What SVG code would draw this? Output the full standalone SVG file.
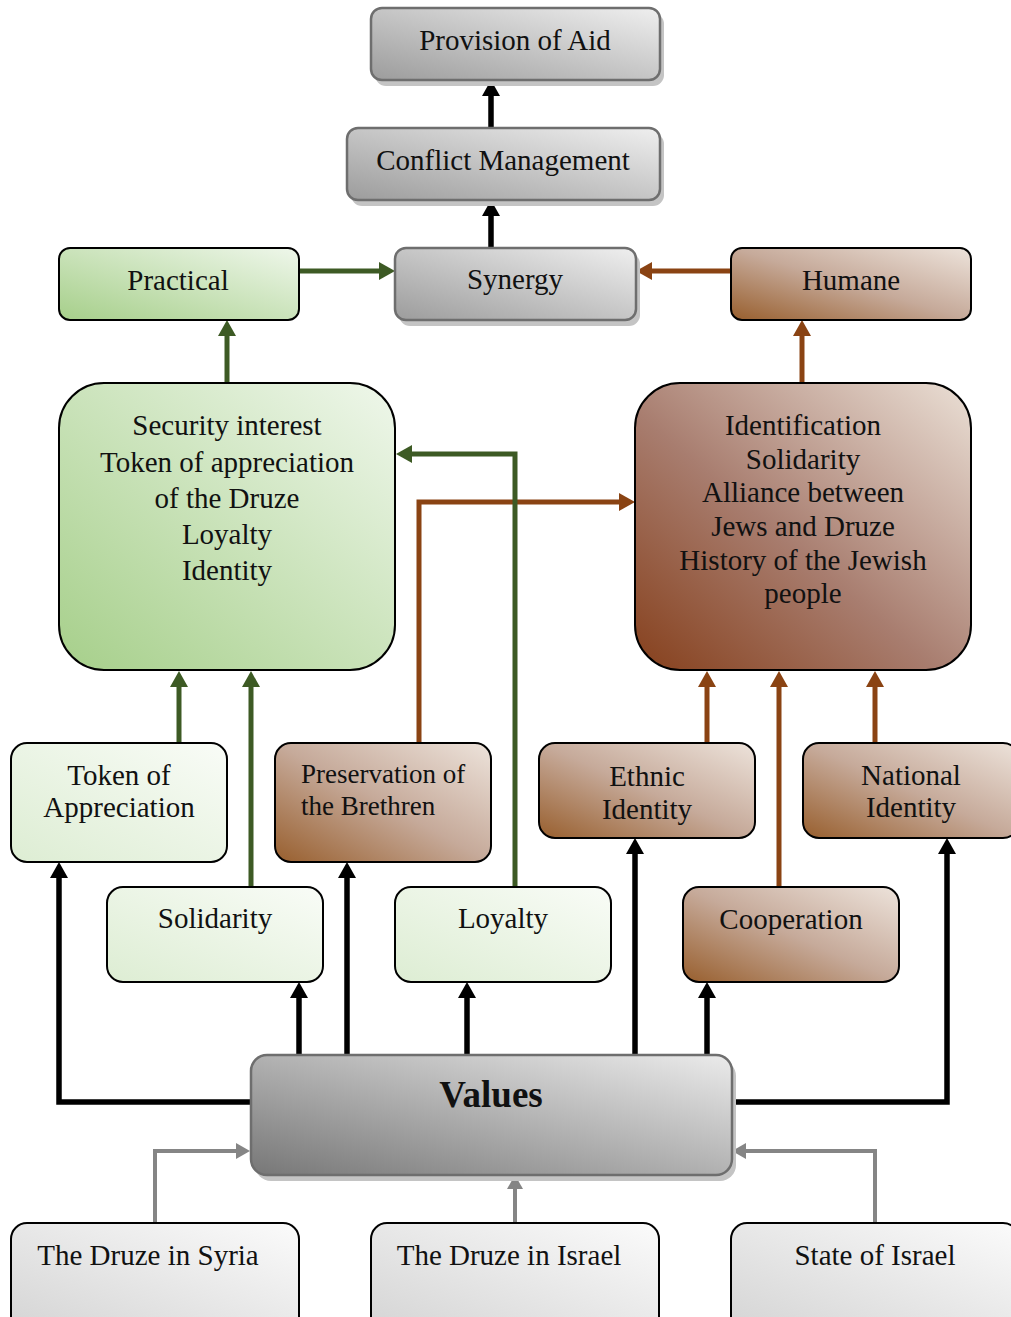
<svg xmlns="http://www.w3.org/2000/svg" width="1011" height="1317" viewBox="0 0 1011 1317">
<style>
text{font-family:"Liberation Serif","Times New Roman",serif;font-size:29px;fill:#111;text-anchor:middle}
.small{font-size:27px;text-anchor:start}
.bold{font-weight:bold;font-size:37px}
.gnode{stroke:#6e6e6e;stroke-width:2.5}
.bnode{stroke:#000;stroke-width:2}
.shadow{fill:#c4c4c4}
.cb{fill:none;stroke:#000;stroke-width:5.5}
.cg{fill:none;stroke:#3d5a24;stroke-width:5}
.cr{fill:none;stroke:#8a4313;stroke-width:5}
.cy{fill:none;stroke:#858585;stroke-width:4}
</style>
<defs>
<linearGradient id="gGray" x1="0" y1="1" x2="1" y2="0"><stop offset="0" stop-color="#9c9c9c"/><stop offset="1" stop-color="#efefef"/></linearGradient>
<linearGradient id="gVal" x1="0" y1="1" x2="1" y2="0"><stop offset="0" stop-color="#777"/><stop offset="1" stop-color="#ebebeb"/></linearGradient>
<linearGradient id="gLGray" x1="0" y1="1" x2="1" y2="0"><stop offset="0" stop-color="#d4d4d4"/><stop offset="1" stop-color="#fbfbfb"/></linearGradient>
<linearGradient id="gGreen" x1="0" y1="1" x2="1" y2="0"><stop offset="0" stop-color="#a6cf8a"/><stop offset="1" stop-color="#eff7eb"/></linearGradient>
<linearGradient id="gLGreen" x1="0" y1="1" x2="1" y2="0"><stop offset="0" stop-color="#ddedd3"/><stop offset="1" stop-color="#f9fcf7"/></linearGradient>
<linearGradient id="gBrown" x1="0" y1="1" x2="1" y2="0"><stop offset="0" stop-color="#985f2e"/><stop offset="0.5" stop-color="#c6aa9a"/><stop offset="1" stop-color="#ede3db"/></linearGradient>
<linearGradient id="gBigBrown" x1="0" y1="1" x2="1" y2="0"><stop offset="0" stop-color="#86401c"/><stop offset="0.45" stop-color="#a87d6f"/><stop offset="1" stop-color="#ebe0d6"/></linearGradient>
<marker id="aB" markerUnits="userSpaceOnUse" markerWidth="16" markerHeight="18" refX="4" refY="9" orient="auto"><path d="M0,0 L16,9 L0,18 z" fill="#000"/></marker>
<marker id="aG" markerUnits="userSpaceOnUse" markerWidth="16" markerHeight="18" refX="4" refY="9" orient="auto"><path d="M0,0 L16,9 L0,18 z" fill="#3d5a24"/></marker>
<marker id="aR" markerUnits="userSpaceOnUse" markerWidth="16" markerHeight="18" refX="4" refY="9" orient="auto"><path d="M0,0 L16,9 L0,18 z" fill="#8a4313"/></marker>
<marker id="aY" markerUnits="userSpaceOnUse" markerWidth="14" markerHeight="16" refX="3" refY="8" orient="auto"><path d="M0,0 L14,8 L0,16 z" fill="#858585"/></marker>
</defs>

<g id="connectors">
<path class="cb" marker-end="url(#aB)" d="M491,128 V92"/>
<path class="cb" marker-end="url(#aB)" d="M491,248 V212"/>
<path class="cb" marker-end="url(#aB)" d="M299,1055 V994"/>
<path class="cb" marker-end="url(#aB)" d="M347,1055 V874"/>
<path class="cb" marker-end="url(#aB)" d="M467,1055 V994"/>
<path class="cb" marker-end="url(#aB)" d="M635,1055 V850"/>
<path class="cb" marker-end="url(#aB)" d="M707,1055 V994"/>
<path class="cb" marker-end="url(#aB)" d="M251,1102 H59 V874"/>
<path class="cb" marker-end="url(#aB)" d="M732,1102 H947 V850"/>
<path class="cr" marker-end="url(#aR)" d="M731,271 H648"/>
<path class="cr" marker-end="url(#aR)" d="M802,383 V332"/>
<path class="cr" marker-end="url(#aR)" d="M419,743 V502 H623"/>
<path class="cr" marker-end="url(#aR)" d="M707,743 V683"/>
<path class="cr" marker-end="url(#aR)" d="M779,887 V683"/>
<path class="cr" marker-end="url(#aR)" d="M875,743 V683"/>
<path class="cg" marker-end="url(#aG)" d="M299,271 H383"/>
<path class="cg" marker-end="url(#aG)" d="M227,383 V332"/>
<path class="cg" marker-end="url(#aG)" d="M179,743 V683"/>
<path class="cg" marker-end="url(#aG)" d="M251,887 V683"/>
<path class="cg" marker-end="url(#aG)" d="M515,887 V454 H408"/>
<path class="cy" marker-end="url(#aY)" d="M155,1223 V1151 H239"/>
<path class="cy" marker-end="url(#aY)" d="M515,1223 V1186"/>
<path class="cy" marker-end="url(#aY)" d="M875,1223 V1151 H743"/>
</g>

<g id="provision">
<rect class="shadow" x="375" y="13" width="289" height="73" rx="11"/>
<rect class="gnode" x="371" y="8" width="289" height="72" rx="11" fill="url(#gGray)"/>
<text x="515" y="50">Provision of Aid</text>
</g>
<g id="conflict">
<rect class="shadow" x="351" y="133" width="313" height="73" rx="11"/>
<rect class="gnode" x="347" y="128" width="313" height="72" rx="11" fill="url(#gGray)"/>
<text x="503" y="170">Conflict Management</text>
</g>
<g id="synergy">
<rect class="shadow" x="399" y="253" width="241" height="73" rx="11"/>
<rect class="gnode" x="395" y="248" width="241" height="72" rx="11" fill="url(#gGray)"/>
<text x="515" y="289">Synergy</text>
</g>
<g id="practical">
<rect class="bnode" x="59" y="248" width="240" height="72" rx="11" fill="url(#gGreen)"/>
<text x="178" y="290">Practical</text>
</g>
<g id="humane">
<rect class="bnode" x="731" y="248" width="240" height="72" rx="11" fill="url(#gBrown)"/>
<text x="851" y="290">Humane</text>
</g>
<g id="practical-values">
<rect class="bnode" x="59" y="383" width="336" height="287" rx="45" fill="url(#gGreen)"/>
<text x="227" y="435">Security interest</text>
<text x="227" y="471.5">Token of appreciation</text>
<text x="227" y="508">of the Druze</text>
<text x="227" y="544">Loyalty</text>
<text x="227" y="580">Identity</text>
</g>
<g id="humane-values">
<rect class="bnode" x="635" y="383" width="336" height="287" rx="45" fill="url(#gBigBrown)"/>
<text x="803" y="435">Identification</text>
<text x="803" y="468.5">Solidarity</text>
<text x="803" y="502">Alliance between</text>
<text x="803" y="535.5">Jews and Druze</text>
<text x="803" y="569.5">History of the Jewish</text>
<text x="803" y="603">people</text>
</g>
<g id="token">
<rect class="bnode" x="11" y="743" width="216" height="119" rx="16" fill="url(#gLGreen)"/>
<text x="119" y="785">Token of</text>
<text x="119" y="817">Appreciation</text>
</g>
<g id="preservation">
<rect class="bnode" x="275" y="743" width="216" height="119" rx="16" fill="url(#gBrown)"/>
<text class="small" x="301" y="783">Preservation of</text>
<text class="small" x="301" y="815">the Brethren</text>
</g>
<g id="ethnic">
<rect class="bnode" x="539" y="743" width="216" height="95" rx="16" fill="url(#gBrown)"/>
<text x="647" y="786">Ethnic</text>
<text x="647" y="819">Identity</text>
</g>
<g id="national">
<rect class="bnode" x="803" y="743" width="216" height="95" rx="16" fill="url(#gBrown)"/>
<text x="911" y="785">National</text>
<text x="911" y="817">Identity</text>
</g>
<g id="solidarity">
<rect class="bnode" x="107" y="887" width="216" height="95" rx="16" fill="url(#gLGreen)"/>
<text x="215" y="928">Solidarity</text>
</g>
<g id="loyalty">
<rect class="bnode" x="395" y="887" width="216" height="95" rx="16" fill="url(#gLGreen)"/>
<text x="503" y="928">Loyalty</text>
</g>
<g id="cooperation">
<rect class="bnode" x="683" y="887" width="216" height="95" rx="16" fill="url(#gBrown)"/>
<text x="791" y="929">Cooperation</text>
</g>
<g id="values">
<rect class="shadow" x="255" y="1060" width="481" height="121" rx="16"/>
<rect class="gnode" x="251" y="1055" width="481" height="120" rx="16" fill="url(#gVal)"/>
<text class="bold" x="491" y="1107">Values</text>
</g>
<g id="druze-syria">
<rect class="bnode" x="11" y="1223" width="288" height="110" rx="16" fill="url(#gLGray)"/>
<text x="148" y="1265">The Druze in Syria</text>
</g>
<g id="druze-israel">
<rect class="bnode" x="371" y="1223" width="288" height="110" rx="16" fill="url(#gLGray)"/>
<text x="509" y="1265">The Druze in Israel</text>
</g>
<g id="state-israel">
<rect class="bnode" x="731" y="1223" width="288" height="110" rx="16" fill="url(#gLGray)"/>
<text x="875" y="1265">State of Israel</text>
</g>
</svg>
